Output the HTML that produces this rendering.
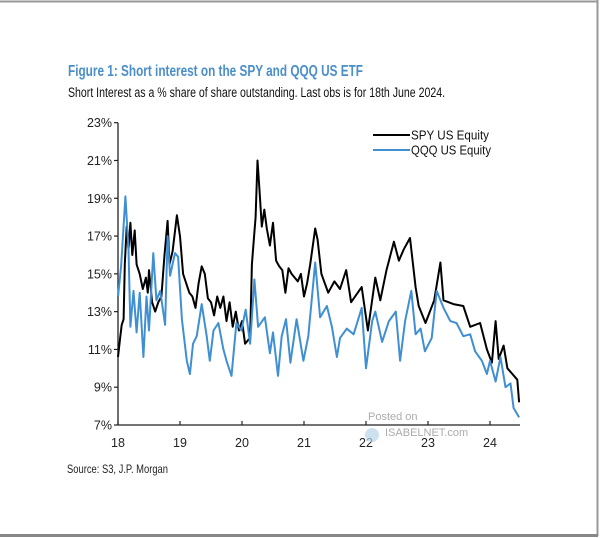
<!DOCTYPE html>
<html><head><meta charset="utf-8"><style>
html,body{margin:0;padding:0;background:#fff}
svg{display:block;font-family:"Liberation Sans",Arial,sans-serif}
</style></head><body>
<svg width="600" height="538" viewBox="0 0 600 538">
<rect x="0" y="0" width="600" height="538" fill="#fff"/>
<line x1="0" y1="1.5" x2="598" y2="1.5" stroke="#999" stroke-width="2"/>
<line x1="597.5" y1="0" x2="597.5" y2="536" stroke="#999" stroke-width="2"/>
<line x1="0" y1="535.5" x2="598" y2="535.5" stroke="#888" stroke-width="3"/>
<text x="68" y="76" font-size="16" font-weight="bold" fill="#4a8fc9" textLength="295" lengthAdjust="spacingAndGlyphs">Figure 1: Short interest on the SPY and QQQ US ETF</text>
<text x="68" y="97" font-size="13.5" fill="#111" textLength="377" lengthAdjust="spacingAndGlyphs">Short Interest as a % share of share outstanding. Last obs is for 18th June 2024.</text>
<text x="67" y="473" font-size="12" fill="#222" textLength="101" lengthAdjust="spacingAndGlyphs">Source: S3, J.P. Morgan</text>
<g id="axes"></g>
<g id="series"></g>
<g>
<line x1="373" y1="135" x2="410" y2="135" stroke="#000" stroke-width="2"/>
<text x="411" y="139.5" font-size="12.5" fill="#111" textLength="78" lengthAdjust="spacingAndGlyphs">SPY US Equity</text>
<line x1="373" y1="150" x2="410" y2="150" stroke="#3f8fd2" stroke-width="2"/>
<text x="411" y="154.5" font-size="12.5" fill="#111" textLength="80" lengthAdjust="spacingAndGlyphs">QQQ US Equity</text>
</g>
<g opacity="0.7">
<text x="368" y="420" font-size="11" fill="#888">Posted on</text>
<circle cx="372" cy="435" r="7" fill="#b8d4ea"/>
<text x="385" y="436" font-size="11" fill="#888">ISABELNET.com</text>
</g>
</svg>
<script>
const yTicks=[7,9,11,13,15,17,19,21,23];
const yTickLabels=["7%","9%","11%","13%","15%","17%","19%","21%","23%"];
const xTicks=[18,19,20,21,22,23,24];
const xTickLabels=["18","19","20","21","22","23","24"];
const spyYears=[18.00,18.03,18.06,18.09,18.11,18.14,18.17,18.20,18.23,18.27,18.30,18.35,18.40,18.45,18.48,18.50,18.55,18.60,18.65,18.70,18.75,18.80,18.83,18.88,18.95,19.00,19.05,19.10,19.15,19.20,19.25,19.30,19.35,19.40,19.45,19.50,19.55,19.60,19.65,19.70,19.75,19.80,19.85,19.90,19.95,20.00,20.05,20.10,20.13,20.16,20.19,20.22,20.25,20.28,20.32,20.36,20.40,20.45,20.50,20.55,20.60,20.65,20.70,20.75,20.80,20.85,20.90,20.95,21.00,21.05,21.10,21.18,21.22,21.28,21.39,21.49,21.58,21.68,21.76,21.93,22.03,22.15,22.23,22.33,22.45,22.53,22.61,22.71,22.80,22.85,22.96,23.10,23.20,23.25,23.41,23.57,23.68,23.84,23.95,24.03,24.09,24.14,24.22,24.28,24.44,24.47];
const spyValues=[10.6,11.5,12.3,12.6,15.5,17.5,16.3,17.7,16.0,17.3,15.5,15.0,14.2,14.8,14.0,15.2,13.5,13.0,13.5,13.8,16.0,17.8,15.5,16.2,18.1,17.0,15.0,14.5,14.0,13.8,13.2,14.5,15.4,15.0,13.7,13.5,12.8,13.8,13.2,13.8,12.5,13.5,12.2,13.0,12.0,12.5,11.3,11.5,11.6,15.5,16.8,18.0,21.0,19.5,17.5,18.4,17.4,16.5,17.7,15.7,15.4,15.2,14.0,15.3,15.0,14.8,14.6,15.0,13.8,14.5,15.5,17.4,16.8,15.0,14.0,14.6,14.2,15.2,13.5,14.3,12.0,14.8,13.6,15.2,16.7,15.7,16.3,16.9,14.3,13.3,12.4,13.6,15.6,13.6,13.4,13.3,12.2,12.4,11.0,10.3,12.5,10.5,11.2,10.0,9.4,8.2];
const qqqYears=[18.00,18.05,18.12,18.17,18.20,18.25,18.30,18.35,18.41,18.46,18.50,18.57,18.62,18.68,18.76,18.80,18.84,18.92,18.97,19.03,19.11,19.16,19.21,19.27,19.35,19.43,19.48,19.54,19.62,19.70,19.75,19.83,19.91,19.99,20.06,20.13,20.20,20.26,20.37,20.45,20.50,20.58,20.64,20.71,20.78,20.88,20.99,21.07,21.18,21.26,21.37,21.45,21.53,21.58,21.69,21.80,21.93,22.00,22.10,22.15,22.26,22.37,22.48,22.55,22.63,22.73,22.80,22.88,22.95,23.06,23.14,23.25,23.36,23.46,23.57,23.68,23.76,23.87,23.95,24.00,24.09,24.17,24.25,24.33,24.38,24.47];
const qqqValues=[13.8,15.4,19.1,16.3,12.2,14.1,11.9,14.0,10.6,13.8,12.0,16.1,13.6,14.1,12.3,17.0,14.9,16.1,15.9,12.6,10.4,9.7,11.3,11.7,13.4,11.7,10.4,12.0,12.4,11.0,10.4,9.6,12.4,12.0,13.1,11.3,14.7,12.2,12.7,10.8,11.9,9.6,11.7,12.6,10.3,12.6,10.4,11.7,15.6,12.7,13.3,12.2,10.6,11.6,12.1,11.8,13.2,10.0,12.5,13.0,11.4,12.5,13.0,10.4,12.5,14.1,11.8,12.1,10.9,11.6,14.1,13.2,12.5,12.4,11.7,11.8,10.9,10.4,9.7,10.4,9.3,10.6,9.0,9.2,7.9,7.4];

const NS="http://www.w3.org/2000/svg";
const X0=118,XPY=62,Y0=425,Y1=122.7,VMIN=7,VMAX=23;
function xs(v){return X0+(v-18)*XPY;}
function ys(v){return Y0-(v-VMIN)/(VMAX-VMIN)*(Y0-Y1);}
function mk(tag,attrs,parent){const e=document.createElementNS(NS,tag);for(const k in attrs)e.setAttribute(k,attrs[k]);parent.appendChild(e);return e;}
const axes=document.getElementById('axes');
let yl=mk('line',{x1:X0,y1:ys(VMAX),x2:X0,y2:Y0,stroke:'#222','stroke-width':1.3},axes);


let xl=mk('line',{x1:X0,y1:Y0,x2:520,y2:Y0,stroke:'#222','stroke-width':1.3},axes);


yTicks.forEach((v,i)=>{
  const t=mk('line',{x1:X0-4,y1:ys(v),x2:X0,y2:ys(v),stroke:'#222','stroke-width':1.2},axes);
  
  
  const l=mk('text',{x:X0-6,y:ys(v)+4.5,'font-size':12.5,'text-anchor':'end',fill:'#222'},axes);
  l.textContent=yTickLabels[i];
  
  
});
xTicks.forEach((v,i)=>{
  const t=mk('line',{x1:xs(v),y1:Y0-4,x2:xs(v),y2:Y0,stroke:'#222','stroke-width':1.2},axes);
  
  
  const l=mk('text',{x:xs(v),y:Y0+22,'font-size':12.5,'text-anchor':'middle',fill:'#222'},axes);
  l.textContent=xTickLabels[i];
  
  
});
const ser=document.getElementById('series');
function line(xsArr,vs,color,name){
  const d=xsArr.map((x,i)=>(i?'L':'M')+xs(x).toFixed(1)+' '+ys(vs[i]).toFixed(1)).join(' ');
  const p=mk('path',{d:d,fill:'none',stroke:color,'stroke-width':2,'stroke-linejoin':'round'},ser);
  
  
}
line(spyYears,spyValues,'#000','spy-line');
line(qqqYears,qqqValues,'#3f8fd2','qqq-line');
</script>
</body></html>
